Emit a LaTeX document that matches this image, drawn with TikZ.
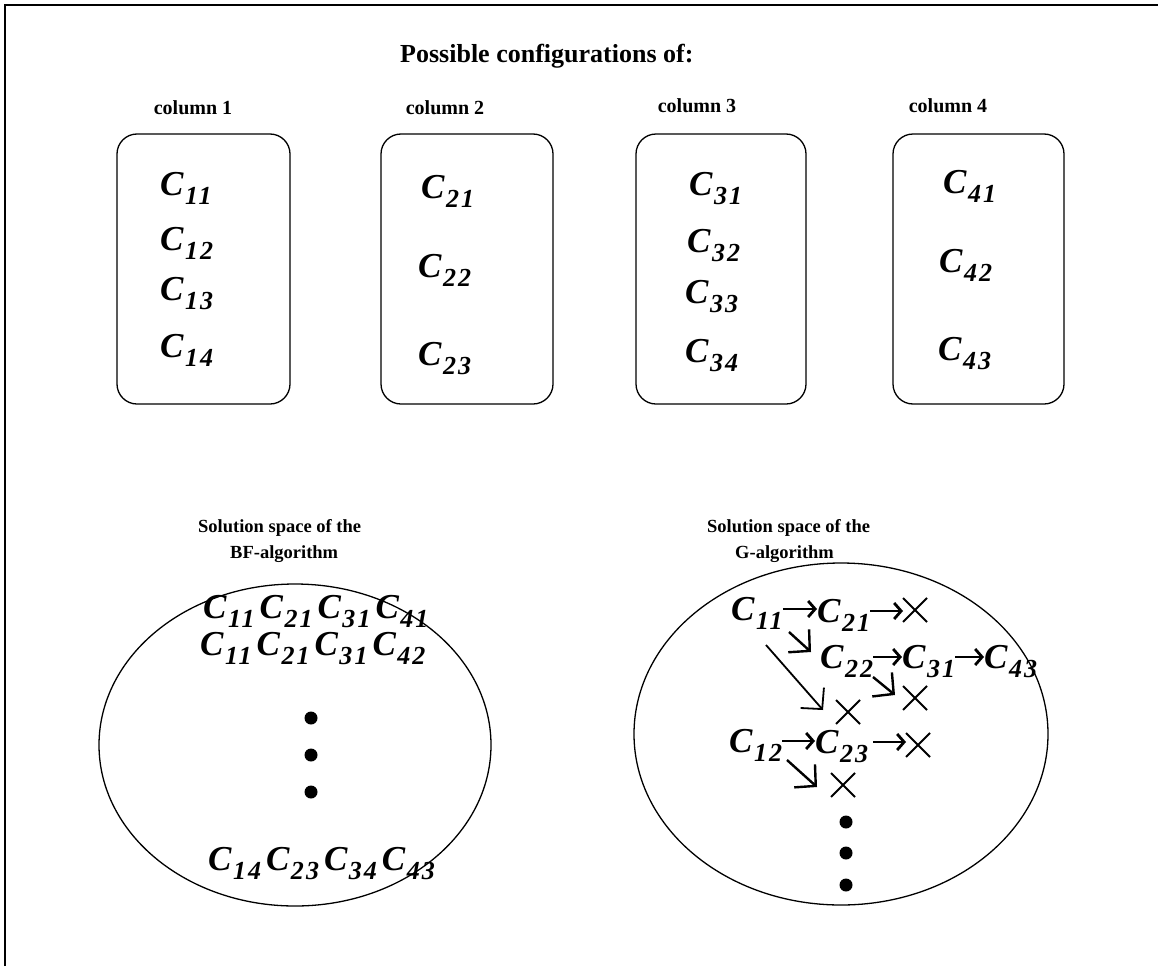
\documentclass[tikz,border=0pt]{standalone}
\usepackage{fontspec}
\setmainfont{Liberation Serif}
\usetikzlibrary{arrows.meta,shapes.misc,shapes.geometric}
% configuration symbol C_{ij}: subscript lowered, kept out of the box height
\newcommand\cfg[1]{C\kern1.5pt\raisebox{-9pt}[0pt][0pt]{\fontsize{26}{26}\selectfont\addfontfeature{LetterSpace=8}#1}}
% a run of configurations, spaced apart
\newcommand\cfgrun[4]{\cfg{#1}\kern5pt\cfg{#2}\kern5pt\cfg{#3}\kern5pt\cfg{#4}}
\begin{document}
\begin{tikzpicture}[x=1pt,y=-1pt,
  heading/.style={font=\fontsize{20}{26}\selectfont\bfseries, inner sep=0},
  subhead/.style={font=\fontsize{18.5}{26}\selectfont\bfseries, inner sep=0, align=left, anchor=north west},
  conf/.style={font=\fontsize{35}{35}\selectfont\bfseries\itshape, inner sep=0, anchor=west},
  colbox/.style={draw, line width=1.3pt, rounded corners=20pt, minimum height=270pt},
  space/.style={draw, ellipse, line width=1.3pt},
  link/.style={line width=2.8pt, -{Straight Barb[length=7pt,width=16pt]}},
  fork/.style={line width=2.4pt, -{Straight Barb[length=15pt,width=31pt]}},
  longfork/.style={line width=1.8pt, -{Straight Barb[length=15pt,width=31pt]}},
  dead/.style={cross out, draw, line width=2pt, minimum size=22pt, inner sep=0},
  dot/.style={circle, fill, minimum size=13pt, inner sep=0}]
\useasboundingbox (0,0) rectangle (1158,966);

% frame
\draw[line width=2.5pt] (5,966) -- (5,5) -- (1158,5);

% headings
\node[heading, font=\fontsize{26}{26}\selectfont\bfseries, anchor=west] (title) at (400,56) {Possible configurations of:};
\node[heading] (h1) at (193,108) {column 1};
\node[heading] (h2) at (445,108) {column 2};
\node[heading] (h3) at (697,106) {column 3};
\node[heading] (h4) at (948,106) {column 4};

% column boxes
\node[colbox, minimum width=173pt] (box1) at (203.5,269) {};
\node[colbox, minimum width=172pt] (box2) at (467,269) {};
\node[colbox, minimum width=170pt] (box3) at (721,269) {};
\node[colbox, minimum width=171pt] (box4) at (978.5,269) {};

\node[conf] (a11) at (160,184) {\cfg{11}};
\node[conf] (a12) at (160,239) {\cfg{12}};
\node[conf] (a13) at (160,289) {\cfg{13}};
\node[conf] (a14) at (160,346) {\cfg{14}};

\node[conf] (a21) at (421,187) {\cfg{21}};
\node[conf] (a22) at (418,266) {\cfg{22}};
\node[conf] (a23) at (418,354) {\cfg{23}};

\node[conf] (a31) at (689,184) {\cfg{31}};
\node[conf] (a32) at (687,241) {\cfg{32}};
\node[conf] (a33) at (685,292) {\cfg{33}};
\node[conf] (a34) at (685,351) {\cfg{34}};

\node[conf] (a41) at (943,182) {\cfg{41}};
\node[conf] (a42) at (939,261) {\cfg{42}};
\node[conf] (a43) at (938,349) {\cfg{43}};

% solution spaces
\node[subhead] (bfhead) at (198,519)
  {Solution space of the\\\hspace*{32pt}BF-algorithm};
\node[subhead] (ghead) at (707,519)
  {Solution space of the\\\hspace*{28pt}G-algorithm};

\node[space, minimum width=392pt, minimum height=322pt] (bf) at (295,745) {};
\node[space, minimum width=414pt, minimum height=342pt] (g) at (841,734) {};

% brute force: every combination
\node[conf] (bf1) at (203,607) {\cfgrun{11}{21}{31}{41}};
\node[conf] (bf2) at (200,644) {\cfgrun{11}{21}{31}{42}};
\node[dot] (bfd1) at (311,718) {};
\node[dot] (bfd2) at (311,755) {};
\node[dot] (bfd3) at (311,792) {};
\node[conf] (bfn) at (208,859) {\cfgrun{14}{23}{34}{43}};

% greedy: pruned search tree
\node[conf] (r11) at (731,609) {\cfg{11}};
\node[conf] (r21) at (817,611) {\cfg{21}};
\node[dead] (x1) at (915,610) {};
\node[conf] (r22) at (820,657) {\cfg{22}};
\node[conf] (r31) at (902,657) {\cfg{31}};
\node[conf] (r43) at (984,657) {\cfg{43}};
\node[dead] (x2) at (915,698) {};
\node[dead] (x3) at (848,712) {};
\node[conf] (r12) at (729,741) {\cfg{12}};
\node[conf] (r23) at (815,742) {\cfg{23}};
\node[dead] (x4) at (918,745) {};
\node[dead] (x5) at (843,785) {};
\node[dot] (gd1) at (846,822) {};
\node[dot] (gd2) at (846,853) {};
\node[dot] (gd3) at (846,885) {};

\draw[link] (r11.east) -- (r11.east -| r21.west);
\draw[link] (r21.east) -- (r21.east -| x1.west);
\draw[link] (r22.east) -- (r22.east -| r31.west);
\draw[link] (r31.east) -- (r31.east -| r43.west);
\draw[link] (r12.east) -- (r12.east -| r23.west);
\draw[link] ([xshift=5pt]r23.east) -- (r23.east -| x4.west);

\draw[fork] ([shift={(58,23)}]r11.west) -- ([shift={(-9,-5)}]r22.west);
\draw[longfork] ([shift={(35,36)}]r11.west) -- ([shift={(-25,-2)}]x3.center);
\draw[fork] ([shift={(53,20)}]r22.west) -- ([shift={(-20,-3)}]x2.center);
\draw[fork] ([shift={(58,19)}]r12.west) -- ([shift={(-26,2)}]x5.center);
\end{tikzpicture}
\end{document}
